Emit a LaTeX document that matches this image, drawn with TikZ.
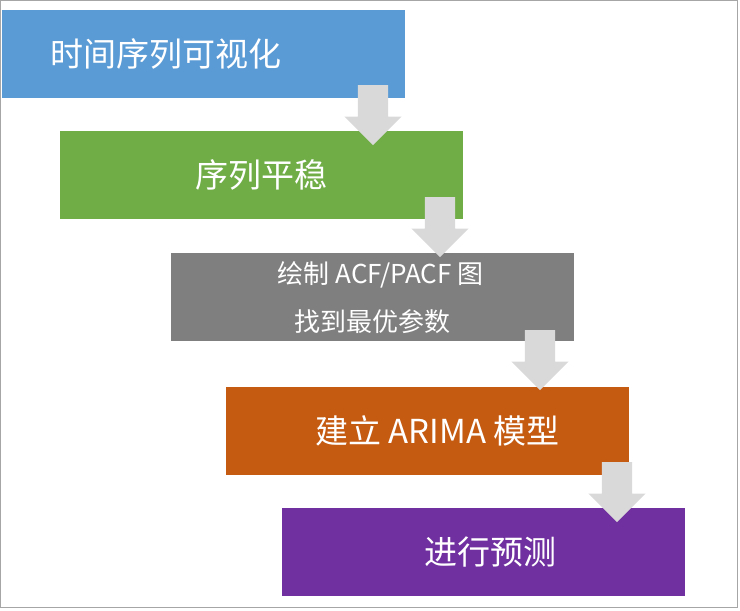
\documentclass[tikz,border=0pt]{standalone}
\usepackage{fontspec}
\setmainfont{Noto Sans CJK SC}
\usetikzlibrary{shapes.arrows}
\definecolor{cblue}{HTML}{5B9BD5}
\definecolor{cgreen}{HTML}{70AD47}
\definecolor{cgray}{HTML}{7F7F7F}
\definecolor{corange}{HTML}{C55A11}
\definecolor{cpurple}{HTML}{7030A0}
\definecolor{carrow}{HTML}{D9D9D9}
\tikzset{
	stepbox/.style = {rectangle, anchor=north west, minimum width=403pt,
		minimum height=88pt, inner sep=0pt, text=white, font=\fontsize{33}{40}\selectfont},
	downarrow/.style = {single arrow, fill=carrow, draw=none, rotate=-90,
		single arrow head extend=13.5pt, single arrow tip angle=90,
		minimum width=57pt, minimum height=60pt, inner xsep=0pt, inner ysep=15pt, anchor=tail}
}
\begin{document}
\begin{tikzpicture}[x=1pt, y=-1pt]
	\useasboundingbox (0,0) rectangle (740,611);
	\draw[gray!70] (0.5,0.5) rectangle (737,607);
	% the five steps
	\node[stepbox, fill=cblue, text width=307pt, align=left, inner xsep=48pt] (vis) at (2,10) {时间序列可视化};
	\node[stepbox, fill=cgreen] (stat) at (60,131) {序列平稳};
	\node[stepbox, fill=cgray, align=center, font=\fontsize{26}{48}\selectfont] (acf) at (171,253)
		{\hspace{16pt}绘制 ACF/PACF 图\\找到最优参数};
	\node[stepbox, fill=corange] (model) at (226,387) {\hspace{20pt}建立 ARIMA 模型};
	\node[stepbox, fill=cpurple] (pred) at (282,508) {\hspace{14pt}进行预测};
	% arrows between steps
	\node[downarrow] (a1) at (373,85) {};
	\node[downarrow] (a2) at (440,197) {};
	\node[downarrow] (a3) at (540,330) {};
	\node[downarrow] (a4) at (617,462) {};
\end{tikzpicture}
\end{document}
